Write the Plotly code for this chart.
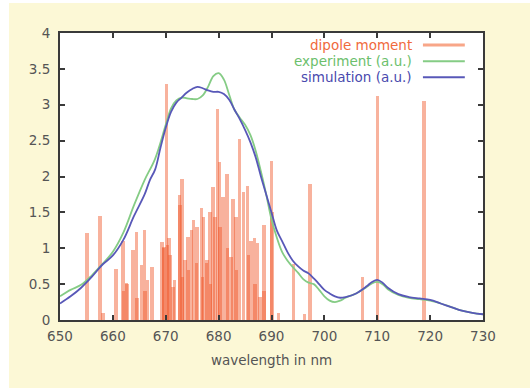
import plotly.graph_objects as go

# ---------------- data ----------------
dipole_wl = [655.1, 657.6, 658.1, 660.6, 661.9, 662.6, 663.8, 664.5, 665.4, 666.0,
             666.6, 667.4, 669.3, 669.7, 670.1, 670.6, 671.4, 671.7, 672.6, 673.1,
             673.6, 674.2, 674.9, 675.3, 675.9, 676.8, 677.1, 677.8, 678.4, 678.9,
             679.3, 679.8, 680.2, 680.8, 681.6, 682.3, 682.7, 683.3, 684.0, 684.7,
             685.5, 686.1, 686.8, 687.3, 687.8, 688.6, 690.0, 691.3, 694.2, 696.2,
             697.3, 707.2, 710.0, 718.8,
             # closely spaced (overlapping) transitions
             662.0, 662.7, 664.6, 666.1, 669.6, 670.3, 670.8, 672.7, 673.2, 674.3,
             675.8, 676.9, 677.7, 678.5, 680.3, 681.7, 683.4, 685.6, 686.9, 688.6,
             690.1]
dipole_val = [1.21, 1.45, 0.10, 0.71, 1.10, 0.52, 0.97, 1.22, 0.77, 1.26,
              0.56, 0.74, 1.09, 1.02, 3.29, 1.14, 0.46, 0.56, 1.74, 1.97,
              0.84, 1.16, 1.25, 1.39, 1.29, 1.56, 1.44, 0.84, 1.51, 1.85,
              1.44, 2.94, 2.20, 1.71, 2.04, 0.88, 1.68, 1.44, 2.52, 1.78,
              1.87, 1.10, 1.14, 1.07, 0.32, 1.32, 2.22, 0.10, 0.78, 0.08,
              1.90, 0.60, 3.12, 3.05,
              0.40, 0.50, 0.30, 0.40, 1.00, 1.05, 0.90, 1.60, 0.60, 0.70,
              0.80, 0.60, 0.80, 0.50, 1.30, 1.00, 0.70, 0.90, 0.50, 0.40,
              1.50]

exp_wl = [650, 652, 654, 656, 658, 660, 662, 664, 666, 668, 670, 671, 672, 673, 674,
          675, 676, 677, 678, 679, 680, 681, 682, 683, 684, 685, 686, 687, 688, 689,
          690, 691, 692, 693, 694, 695, 696, 697, 698, 699, 700, 701, 702, 703, 704,
          706, 708, 709, 710, 711, 712, 714, 716, 718, 720, 722, 724, 726, 728, 730]
exp_val = [0.33, 0.42, 0.49, 0.62, 0.78, 0.95, 1.22, 1.60, 1.95, 2.25, 2.72, 2.95, 3.06, 3.10, 3.09,
           3.08, 3.08, 3.13, 3.25, 3.40, 3.44, 3.35, 3.14, 2.93, 2.82, 2.72, 2.58, 2.36, 2.07, 1.75,
           1.40, 1.15, 0.95, 0.83, 0.74, 0.66, 0.57, 0.52, 0.50, 0.42, 0.33, 0.27, 0.25, 0.27, 0.31,
           0.37, 0.46, 0.51, 0.53, 0.50, 0.43, 0.35, 0.31, 0.29, 0.27, 0.23, 0.18, 0.13, 0.10, 0.08]

sim_wl = [650, 652, 654, 656, 658, 660, 662, 664, 666, 667, 668, 669, 670, 671, 672,
          673, 674, 675, 676, 677, 678, 679, 680, 681, 682, 683, 684, 685, 686, 687,
          688, 689, 690, 691, 692, 693, 694, 695, 696, 697, 698, 699, 700, 701, 702,
          703, 704, 706, 708, 709, 710, 711, 712, 714, 716, 718, 720, 722, 724, 726,
          728, 730]
sim_val = [0.23, 0.33, 0.45, 0.60, 0.77, 0.90, 1.12, 1.45, 1.75, 1.95, 2.10, 2.40, 2.68, 2.90, 3.03,
           3.10, 3.17, 3.22, 3.25, 3.23, 3.20, 3.18, 3.18, 3.15, 3.07, 2.93, 2.80, 2.65, 2.48, 2.27,
           2.00, 1.75, 1.50, 1.25, 1.10, 0.95, 0.83, 0.75, 0.69, 0.65, 0.58, 0.50, 0.42, 0.37, 0.33,
           0.31, 0.32, 0.37, 0.47, 0.53, 0.56, 0.52, 0.45, 0.36, 0.32, 0.30, 0.28, 0.23, 0.18, 0.13,
           0.10, 0.08]

x_ticks = [650, 660, 670, 680, 690, 700, 710, 720, 730]
y_ticks = [0, 0.5, 1, 1.5, 2, 2.5, 3, 3.5, 4]
y_tick_labels = ["0", "0.5", "1", "1.5", "2", "2.5", "3", "3.5", "4"]

series_names = ["dipole moment", "experiment (a.u.)", "simulation (a.u.)"]
sample_colors = ["#F8A688", "#85CC85", "#5858B8"]
text_colors = ["#F06A3C", "#6CC06C", "#4A4AAE"]

FONT = "DejaVu Sans"
FS = 13.5

fig = go.Figure()
fig.add_trace(go.Bar(x=dipole_wl, y=dipole_val, width=0.65,
                     marker=dict(color="rgba(240,88,42,0.46)", line=dict(width=0)),
                     name=series_names[0], showlegend=False))
fig.add_trace(go.Scatter(x=exp_wl, y=exp_val, mode="lines", line_shape="spline",
                         line=dict(color=sample_colors[1], width=1.8),
                         name=series_names[1], showlegend=False))
fig.add_trace(go.Scatter(x=sim_wl, y=sim_val, mode="lines", line_shape="spline",
                         line=dict(color=sample_colors[2], width=1.8),
                         name=series_names[2], showlegend=False))

# gnuplot-style legend (text right-aligned, sample line on the right)
leg_y = [0.958, 0.902, 0.846]
shapes = []
annotations = []
for i, (name, lc, tc, yy) in enumerate(zip(series_names, sample_colors, text_colors, leg_y)):
    annotations.append(dict(xref="paper", yref="paper", x=0.838, y=yy, xanchor="right",
                            yanchor="middle", text=name, showarrow=False,
                            font=dict(family=FONT, size=FS, color=tc)))
    shapes.append(dict(type="line", xref="paper", yref="paper", x0=0.858, x1=0.957,
                       y0=yy, y1=yy, line=dict(color=lc, width=3 if i == 0 else 2)))

# white strips at the left and top edges of the picture
shapes.append(dict(type="rect", xref="paper", yref="paper", x0=-0.3, x1=(9 - 60) / 423,
                   y0=-0.4, y1=1.3, fillcolor="white", line=dict(width=0), layer="below"))
shapes.append(dict(type="rect", xref="paper", yref="paper", x0=-0.3, x1=1.3,
                   y0=(320 - 3) / 287, y1=1.3, fillcolor="white", line=dict(width=0), layer="below"))

axis_common = dict(showline=True, linecolor="#3a3a3a", linewidth=2, mirror="ticks",
                   ticks="inside", ticklen=5, tickcolor="#3a3a3a", tickwidth=1.5,
                   showgrid=False, zeroline=False,
                   tickfont=dict(family=FONT, size=FS, color="#555555"))

fig.update_layout(
    width=530, height=388,
    margin=dict(l=60, r=47, t=33, b=68),
    paper_bgcolor="#FCF8D6", plot_bgcolor="white",
    barmode="overlay", bargap=0,
    xaxis=dict(range=[650, 730], tickvals=x_ticks, ticklabelstandoff=3, **axis_common,
               title=dict(text="wavelength in nm", standoff=12,
                          font=dict(family=FONT, size=FS, color="#555555"))),
    yaxis=dict(range=[0, 4], tickvals=y_ticks, ticktext=y_tick_labels,
               ticklabelstandoff=5, **axis_common),
    shapes=shapes, annotations=annotations,
)

fig.write_html("out.html", config={"displayModeBar": False},
               post_script="document.body.style.margin='0px';document.body.style.overflow='hidden';")
